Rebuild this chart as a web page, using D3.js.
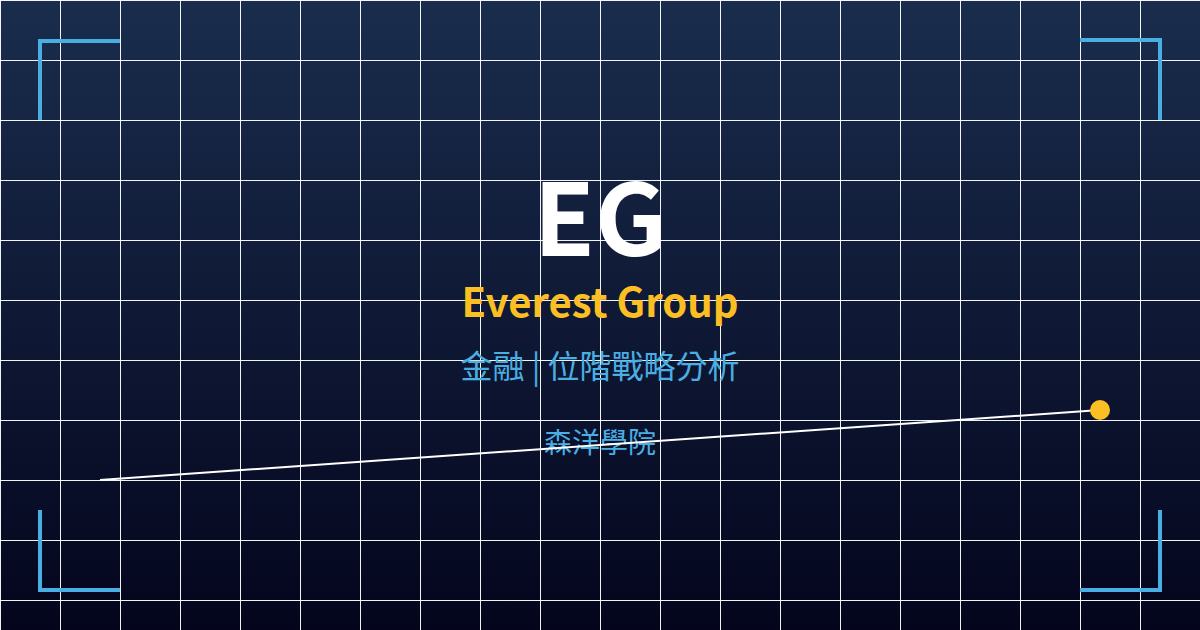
<!DOCTYPE html>
<html>
<head>
<meta charset="utf-8">
<script src="https://cdn.jsdelivr.net/npm/d3@7"></script>
<style>
  html, body { margin: 0; padding: 0; background: #0b1230; }
  svg { display: block; }
  text { font-family: "Noto Sans CJK TC", "Noto Sans", sans-serif; }
</style>
</head>
<body>
<div id="chart"></div>
<script>
// data
var gridCols = d3.range(0, 21);     // vertical grid ticks
var gridRows = d3.range(0, 11);     // horizontal grid ticks
var trendX = [0, 1];
var trendY = [0, 1];
var titleText = "EG";
var subtitleText = "Everest Group";
var tagText = "金融 | 位階戰略分析";
var brandText = "森洋學院";

var width = 1200;
var height = 630;

var svg = d3.select("#chart")
    .append("svg")
    .attr("width", width)
    .attr("height", height);

// background gradient
var defs = svg.append("defs");
var grad = defs.append("linearGradient")
    .attr("id", "bg")
    .attr("x1", 0).attr("y1", 0)
    .attr("x2", 0).attr("y2", 1);
grad.append("stop").attr("offset", "0%").attr("stop-color", "#1a2d4d");
grad.append("stop").attr("offset", "100%").attr("stop-color", "#04051d");

svg.append("rect")
    .attr("width", width)
    .attr("height", height)
    .attr("fill", "url(#bg)");

// grid scales
var gx = d3.scaleLinear().domain([0, 20]).range([0, 1200]);
var gy = d3.scaleLinear().domain([0, 10]).range([0, 600]);

svg.append("g").attr("class", "gridX")
    .selectAll("line")
    .data(gridCols)
    .enter()
    .append("line")
    .attr("x1", function(d) { return gx(d) + 0.5; })
    .attr("x2", function(d) { return gx(d) + 0.5; })
    .attr("y1", 0)
    .attr("y2", height)
    .attr("stroke", "#ffffff")
    .attr("stroke-opacity", 0.95)
    .attr("stroke-width", 1);

svg.append("g").attr("class", "gridY")
    .selectAll("line")
    .data(gridRows)
    .enter()
    .append("line")
    .attr("y1", function(d) { return gy(d) + 0.5; })
    .attr("y2", function(d) { return gy(d) + 0.5; })
    .attr("x1", 0)
    .attr("x2", width)
    .attr("stroke", "#ffffff")
    .attr("stroke-opacity", 0.95)
    .attr("stroke-width", 1);

// corner brackets
var corners = [
  [[40, 120], [40, 41], [120, 41]],
  [[1080, 40], [1160, 40], [1160, 120]],
  [[40, 510], [40, 590], [120, 590]],
  [[1080, 590], [1160, 590], [1160, 510]]
];
svg.append("g").selectAll("path")
    .data(corners)
    .enter()
    .append("path")
    .attr("d", d3.line())
    .attr("fill", "none")
    .attr("stroke", "#4aaee3")
    .attr("stroke-width", 4);

// texts
svg.append("text")
    .attr("x", 600).attr("y", 256)
    .attr("text-anchor", "middle")
    .attr("font-size", 100)
    .attr("font-weight", 700)
    .attr("fill", "#ffffff")
    .text(titleText);

svg.append("text")
    .attr("x", 600).attr("y", 317)
    .attr("text-anchor", "middle")
    .attr("font-size", 40)
    .attr("font-weight", 700)
    .attr("fill", "#fbbf24")
    .text(subtitleText);

svg.append("text")
    .attr("x", 600).attr("y", 378)
    .attr("text-anchor", "middle")
    .attr("font-size", 32)
    .attr("fill", "#4aaee3")
    .text(tagText);

svg.append("text")
    .attr("x", 600).attr("y", 453)
    .attr("text-anchor", "middle")
    .attr("font-size", 28)
    .attr("fill", "#4aaee3")
    .text(brandText);

// trend line (drawn over the text)
var xScale = d3.scaleLinear().domain([0, 1]).range([100, 1100]);
var yScale = d3.scaleLinear().domain([0, 1]).range([480, 410]);
var pts = trendX.map(function(d, i) { return [d, trendY[i]]; });

svg.append("path")
    .datum(pts)
    .attr("d", d3.line()
        .x(function(d) { return xScale(d[0]); })
        .y(function(d) { return yScale(d[1]); }))
    .attr("fill", "none")
    .attr("stroke", "#ffffff")
    .attr("stroke-width", 2);

svg.append("circle")
    .attr("cx", xScale(trendX[trendX.length - 1]))
    .attr("cy", yScale(trendY[trendY.length - 1]))
    .attr("r", 10)
    .attr("fill", "#fbbf24");
</script>
</body>
</html>
